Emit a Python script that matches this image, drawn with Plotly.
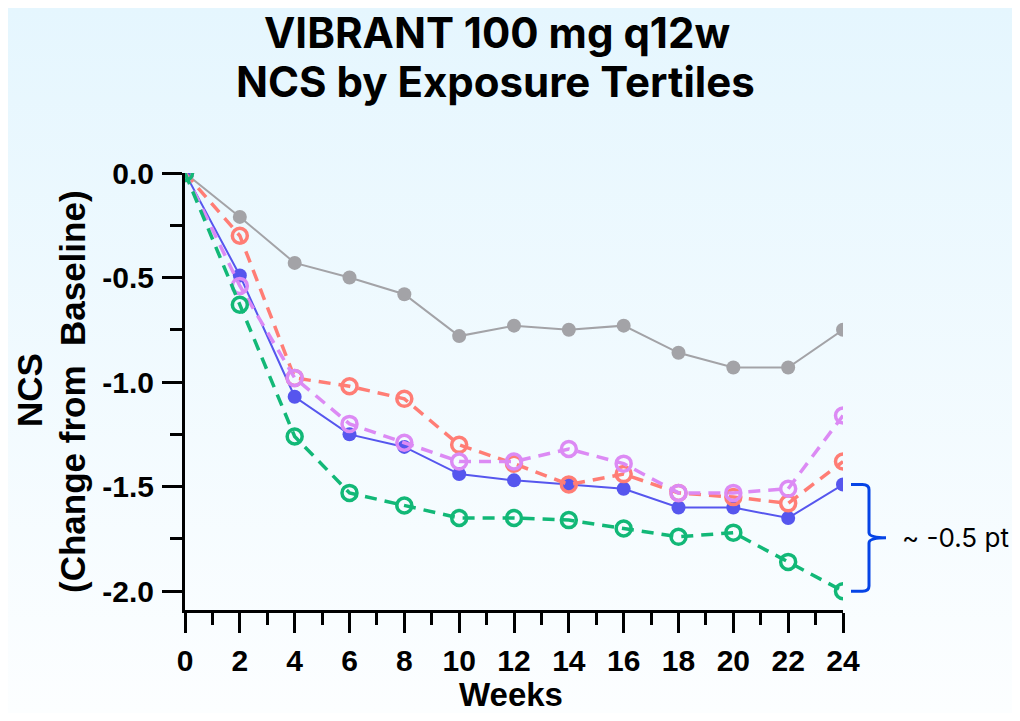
import base64
import plotly.graph_objects as go

# weeks and NCS change from baseline per exposure group
weeks = [0, 2, 4, 6, 8, 10, 12, 14, 16, 18, 20, 22, 24]
placebo = [0, -0.21, -0.43, -0.50, -0.58, -0.78, -0.73, -0.75, -0.73, -0.86, -0.93, -0.93, -0.75]
overall = [0, -0.49, -1.07, -1.25, -1.31, -1.44, -1.47, -1.49, -1.51, -1.60, -1.60, -1.65, -1.49]
tertile_low = [0, -0.30, -0.98, -1.02, -1.08, -1.30, -1.39, -1.49, -1.44, -1.53, -1.55, -1.58, -1.38]
tertile_mid = [0, -0.54, -0.98, -1.20, -1.29, -1.38, -1.38, -1.32, -1.39, -1.53, -1.53, -1.51, -1.16]
tertile_high = [0, -0.63, -1.26, -1.53, -1.59, -1.65, -1.65, -1.66, -1.70, -1.74, -1.72, -1.86, -2.00]

y_ticks = [0.0, -0.5, -1.0, -1.5, -2.0]
y_tick_text = ["0.0", "-0.5", "-1.0", "-1.5", "-2.0"]

# page body has an 8px margin, so the figure is sized to fit inside it
OFF = 8
W, H = 1020 - 2 * OFF, 721 - 2 * OFF
L, T = 185 - OFF, 173 - OFF
R, B = W - (843 - OFF), H - (610 - OFF)
YMIN, YMAX = -2.09, 0.0
PW, PH = W - L - R, H - T - B


def px_x(px):
    # screen pixel -> paper x
    return (px - OFF - L) / PW


def px_y(py):
    return 1 - (py - OFF - T) / PH


def val_y(v):
    return (v - YMIN) / (YMAX - YMIN)


fig = go.Figure()

solid = [(placebo, "#a3a3a7"), (overall, "#5656ee")]
dashed = [(tertile_low, "#ff7d75"), (tertile_mid, "#dc8af4"), (tertile_high, "#12b877")]

for vals, color in solid:
    fig.add_trace(go.Scatter(
        x=weeks, y=vals, mode="lines+markers",
        line=dict(color=color, width=2),
        marker=dict(color=color, size=14, symbol="circle"),
        showlegend=False))

for vals, color in dashed:
    fig.add_trace(go.Scatter(
        x=weeks, y=vals, mode="lines+markers",
        line=dict(color=color, width=3.5, dash="12px,8px"),
        marker=dict(color=color, size=15, symbol="circle-open", line=dict(width=3.5, color=color)),
        showlegend=False))

# background gradient
svg = ('<svg xmlns="http://www.w3.org/2000/svg" width="1020" height="721" preserveAspectRatio="none">'
       '<defs><linearGradient id="g" x1="0" y1="0" x2="0" y2="1">'
       '<stop offset="0" stop-color="#e5f6fe"/><stop offset="1" stop-color="#fcfeff"/>'
       '</linearGradient></defs><rect width="1020" height="721" fill="url(#g)"/></svg>')
bg = "data:image/svg+xml;base64," + base64.b64encode(svg.encode()).decode()

# bracket between overall and highest tertile at week 24
top, bot = val_y(overall[-1]), val_y(tertile_high[-1])
mid = (top + bot) / 2
x0, x1, x2 = px_x(851), px_x(869), px_x(886)
r = 0.012
bracket = (f"M {x0},{top} L {x1 - 0.01},{top} Q {x1},{top} {x1},{top - r} "
           f"L {x1},{mid + r} Q {x1},{mid} {x2},{mid} Q {x1},{mid} {x1},{mid - r} "
           f"L {x1},{bot + r} Q {x1},{bot} {x1 - 0.01},{bot} L {x0},{bot}")

axis_font = dict(family="Liberation Sans, Arial, sans-serif", size=30, color="black", weight="bold")
title_font = dict(family="Inter", size=42, color="black", weight="bold")
label_font = dict(family="Liberation Sans, Arial", size=35, color="black", weight="bold")


def note(text, x, y, font, **kw):
    return dict(text=text, x=px_x(x), y=px_y(y), xref="paper", yref="paper", showarrow=False,
                xanchor=kw.pop("xanchor", "center"), yanchor="middle", font=font, **kw)


fig.update_layout(
    width=W, height=H,
    margin=dict(l=L, r=R, t=T, b=B),
    paper_bgcolor="#f2faff",
    plot_bgcolor="rgba(0,0,0,0)",
    images=[dict(source=bg, xref="paper", yref="paper", x=-L / PW, y=1 + T / PH,
                 sizex=W / PW, sizey=H / PH, xanchor="left", yanchor="top",
                 sizing="stretch", layer="below")],
    shapes=[dict(type="path", xref="paper", yref="paper", path=bracket,
                 line=dict(color="#0644e6", width=3))],
    annotations=[
        note("VIBRANT 100 mg q12w", 497, 32, title_font),
        note("NCS by Exposure Tertiles", 495, 81, title_font),
        note("NCS", 29, 390, label_font, textangle=-90),
        note("(Change from&nbsp; Baseline)", 72, 392, label_font, textangle=-90),
        note("Weeks", 511, 694, dict(label_font, size=33)),
        dict(text="~ -0.5 pt", x=px_x(900), y=mid, xref="paper", yref="paper", xanchor="left",
             yanchor="middle", showarrow=False, font=dict(family="Inter", size=26, color="black")),
    ],
)

fig.update_xaxes(
    range=[0, 24], tickmode="linear", tick0=0, dtick=2,
    showline=True, linewidth=3, linecolor="black", showgrid=False, zeroline=False,
    ticks="outside", ticklen=20, tickwidth=3, tickcolor="black",
    minor=dict(dtick=1, tick0=0, ticks="outside", ticklen=12, tickwidth=3, tickcolor="black", showgrid=False),
    tickfont=axis_font, ticklabelstandoff=2,
)
fig.update_yaxes(
    range=[YMIN, YMAX], tickmode="array", tickvals=y_ticks, ticktext=y_tick_text,
    showline=True, linewidth=3, linecolor="black", showgrid=False, zeroline=False,
    ticks="outside", ticklen=20, tickwidth=3, tickcolor="black",
    minor=dict(tickmode="array", tickvals=[-0.25, -0.75, -1.25, -1.75], ticks="outside", ticklen=12,
               tickwidth=3, tickcolor="black", showgrid=False),
    tickfont=axis_font, ticklabelstandoff=2,
)

fig.write_html("out.html")
